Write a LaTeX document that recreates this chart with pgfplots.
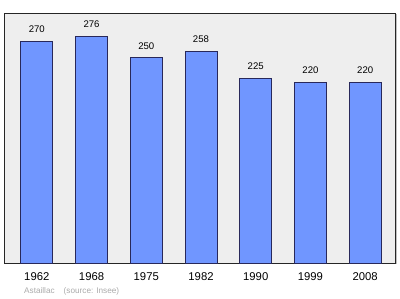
\documentclass[border=0pt]{standalone}
\usepackage{pgfplots}
\pgfplotsset{compat=1.18}
\usepackage{fontspec}
\setmainfont{Liberation Sans}
\definecolor{barfill}{RGB}{112,150,255}
\definecolor{barline}{RGB}{40,40,90}
\definecolor{bgc}{RGB}{238,238,238}
\definecolor{srcgray}{RGB}{170,170,170}
\begin{document}
\begin{tikzpicture}[x=1pt,y=1pt]
\path[use as bounding box] (0,0) rectangle (400,299);
\fill[gray!50] (5.5,34.5) rectangle (396.5,284.5);
\begin{axis}[
  at={(4.3pt,35.7pt)}, anchor=south west,
  scale only axis, width=391pt, height=250pt,
  xmin=-0.594, xmax=6.55, ymin=0, ymax=304,
  axis background/.style={fill=bgc},
  axis line style={black!85, line width=0.7pt},
  ybar, bar width=32pt,
  xtick=data,
  xticklabels={1962,1968,1975,1982,1990,1999,2008},
  xticklabel style={anchor=north, inner sep=0pt, yshift=-9.5pt, font=\fontsize{11.3}{13}\selectfont},
  major tick length=0pt,
  ytick=\empty,
  /pgf/number format/assume math mode=true,
  nodes near coords,
  every node near coord/.append style={font=\fontsize{9.6}{11}\selectfont, anchor=south, inner sep=0pt, yshift=8pt},
]
\addplot[fill=barfill, draw=barline, line width=0.7pt] coordinates {(0,270) (1,276) (2,250) (3,258) (4,225) (5,220) (6,220)};
\end{axis}
\node[anchor=west, inner sep=0pt, text=srcgray, font=\fontsize{8.2}{10}\selectfont] at (24,7.3) {Astaillac\hspace{1.1em}(source: Insee)};
\end{tikzpicture}
\end{document}
